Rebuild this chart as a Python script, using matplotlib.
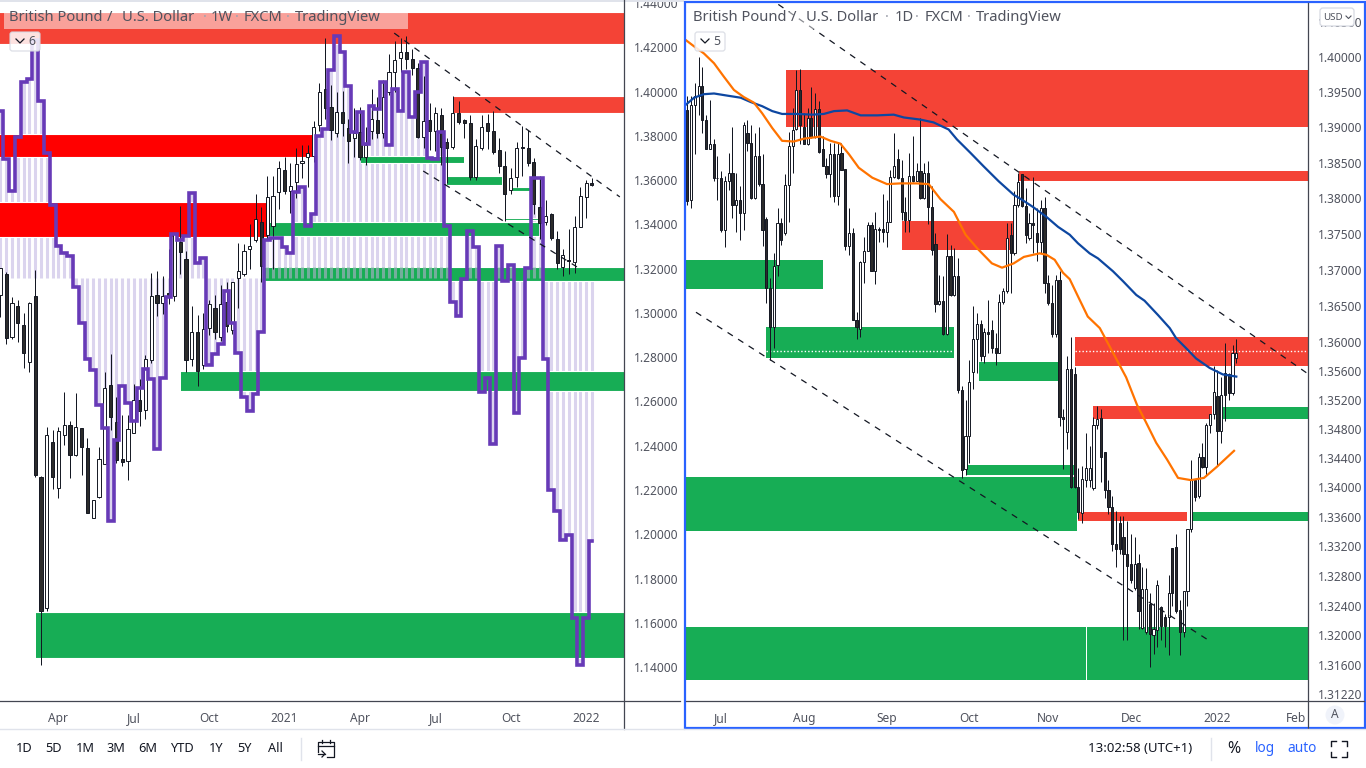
import matplotlib
matplotlib.use("Agg")
import matplotlib.pyplot as plt
from matplotlib.patches import Rectangle, Circle, FancyBboxPatch

plt.rcParams['font.family'] = ['Noto Sans', 'DejaVu Sans']

# ---- weekly chart data (left pane)
week_open = [1.3081,1.3176,1.2893,1.3031,1.2945,1.2780,1.3076,1.2261,1.1668,1.2416,1.2210,1.2447,1.2495,1.2359,1.2481,1.2391,1.2075,1.2168,1.2319,1.2676,
             1.2507,1.2341,1.2331,1.2459,1.2608,1.2563,1.2787,1.3081,1.3046,1.3090,1.3078,1.3322,1.3242,1.2790,1.2912,1.2764,1.2930,1.3021,1.2889,1.3051,
             1.2923,1.3156,1.3174,1.3287,1.3329,1.3409,1.3352,1.3394,1.3545,1.3646,1.3552,1.3590,1.3675,1.3703,1.3710,1.3849,1.4011,1.3929,1.3811,1.3909,
             1.3834,1.3789,1.3819,1.3703,1.3823,1.3871,1.3811,1.4000,1.4090,1.4150,1.4177,1.4145,1.4105,1.3796,1.3871,1.3823,1.3894,1.3774,1.3751,1.3902,
             1.3871,1.3860,1.3615,1.3746,1.3856,1.3823,1.3736,1.3664,1.3555,1.3615,1.3751,1.3743,1.3680,1.3477,1.3409,1.3445,1.3332,1.3209,1.3239,1.3231,
             1.3387,1.3522,1.3585]
week_high = [1.3201,1.3185,1.3070,1.3060,1.3000,1.3050,1.3195,1.2265,1.2485,1.2473,1.2484,1.2645,1.2513,1.2640,1.2481,1.2435,1.2156,1.2395,1.2734,1.2814,
             1.2620,1.2540,1.2540,1.2680,1.2700,1.2810,1.3180,1.3190,1.3165,1.3290,1.3355,1.3485,1.3280,1.3030,1.2990,1.3000,1.3060,1.3080,1.3125,1.3140,
             1.3141,1.3315,1.3312,1.3400,1.3535,1.3480,1.3620,1.3620,1.3685,1.3705,1.3675,1.3745,1.3757,1.3760,1.3865,1.4040,1.4240,1.4030,1.4000,1.4002,
             1.3875,1.3925,1.3930,1.3840,1.4010,1.3975,1.4050,1.4170,1.4230,1.4240,1.4250,1.4190,1.4130,1.4070,1.3950,1.3930,1.3925,1.3790,1.3980,1.3957,
             1.3875,1.3895,1.3785,1.3895,1.3900,1.3910,1.3790,1.3730,1.3655,1.3770,1.3845,1.3825,1.3700,1.3620,1.3510,1.3450,1.3370,1.3290,1.3380,1.3437,
             1.3570,1.3600,1.3610]
week_low = [1.2983,1.2860,1.2880,1.2870,1.2750,1.2735,1.2258,1.1408,1.1653,1.2205,1.2165,1.2405,1.2255,1.2355,1.2270,1.2096,1.2075,1.2165,1.2319,1.2470,
            1.2320,1.2310,1.2245,1.2459,1.2490,1.2520,1.2775,1.2985,1.2995,1.3040,1.3055,1.3175,1.2735,1.2760,1.2672,1.2745,1.2900,1.2880,1.2875,1.2915,
            1.2905,1.3020,1.3165,1.3200,1.3320,1.3140,1.3335,1.3200,1.3470,1.3535,1.3450,1.3520,1.3610,1.3570,1.3680,1.3820,1.3875,1.3780,1.3795,1.3800,
            1.3676,1.3705,1.3690,1.3670,1.3785,1.3790,1.3790,1.3985,1.4000,1.4090,1.4100,1.4075,1.3790,1.3745,1.3735,1.3730,1.3670,1.3585,1.3740,1.3855,
            1.3790,1.3600,1.3600,1.3735,1.3740,1.3720,1.3630,1.3415,1.3535,1.3570,1.3620,1.3665,1.3445,1.3335,1.3395,1.3330,1.3200,1.3165,1.3175,1.3180,
            1.3387,1.3430,1.3575]
week_close = [1.3201,1.2885,1.3046,1.2956,1.2820,1.3043,1.2270,1.1653,1.2447,1.2258,1.2465,1.2495,1.2359,1.2484,1.2394,1.2096,1.2156,1.2341,1.2662,1.2530,
              1.2337,1.2326,1.2477,1.2608,1.2557,1.2790,1.3076,1.3046,1.3078,1.3081,1.3355,1.3274,1.2787,1.2912,1.2739,1.2926,1.3039,1.2912,1.3039,1.2942,
              1.3141,1.3190,1.3281,1.3304,1.3426,1.3213,1.3522,1.3530,1.3653,1.3552,1.3575,1.3671,1.3688,1.3724,1.3841,1.3996,1.3924,1.3826,1.3909,1.3856,
              1.3778,1.3811,1.3703,1.3759,1.3874,1.3811,1.3977,1.4087,1.4141,1.4177,1.4147,1.4105,1.3796,1.3868,1.3823,1.3902,1.3751,1.3744,1.3902,1.3864,
              1.3860,1.3615,1.3755,1.3841,1.3823,1.3725,1.3665,1.3537,1.3608,1.3743,1.3746,1.3678,1.3490,1.3408,1.3439,1.3337,1.3227,1.3263,1.3233,1.3387,
              1.3530,1.3585,1.3580]
# purple step line
week_line = [1.3912,1.3694,1.3551,1.3796,1.4042,1.4055,1.4233,1.3957,1.3721,1.3489,1.3304,1.3269,1.3257,1.3118,1.2956,1.2792,1.2742,1.2582,1.2481,1.2062,
             1.2427,1.2672,1.2593,1.2514,1.2662,1.2745,1.2701,1.2386,1.2707,1.3073,1.3355,1.3329,1.3347,1.3540,1.3224,1.3246,1.2764,1.2813,1.2858,1.3099,
             1.2953,1.2820,1.2620,1.2556,1.2635,1.2915,1.3329,1.3337,1.3337,1.3299,1.3269,1.3548,1.3570,1.3394,1.3445,1.3799,1.3829,1.4097,1.4251,1.4180,
             1.4025,1.3816,1.3909,1.3761,1.3935,1.3920,1.4042,1.3758,1.4010,1.3912,1.4087,1.3886,1.3996,1.4132,1.3701,1.3694,1.3819,1.3394,1.3051,1.2986,
             1.3152,1.3370,1.3296,1.2645,1.2704,1.2409,1.3302,1.3144,1.3216,1.2548,1.2795,1.3204,1.3611,1.3611,1.2790,1.2198,1.2105,1.1975,1.1995,1.1623,
             1.1408,1.1623,1.1968]
stripe_base = 1.3158

week_ticks = [1.14,1.16,1.18,1.20,1.22,1.24,1.26,1.28,1.30,1.32,1.34,1.36,1.38,1.40,1.42,1.44]
week_xticks = [10,23,36,49,62,75,88,101]
week_xlabels = ['Apr','Jul','Oct','2021','Apr','Jul','Oct','2022']

# zones: first bar, last bar, low price, high price
RED = '#f44336'
PURE_RED = '#ff0000'
GREEN = '#17ad55'
week_zones = [
    (-1,107.6,1.4215,1.4359,RED),
    (-1,53.9,1.3706,1.3808,PURE_RED),
    (-1,45.9,1.3343,1.3501,PURE_RED),
    (78,107.6,1.3905,1.3980,RED),
    (62.2,80,1.3679,1.3709,GREEN),
    (77,86.5,1.3578,1.3618,GREEN),
    (88.2,91.3,1.3552,1.3569,GREEN),
    (87,92.7,1.3420,1.3429,GREEN),
    (46.3,92.9,1.3347,1.3411,GREEN),
    (45.3,107.6,1.3145,1.3209,GREEN),
    (31.1,107.6,1.2646,1.2738,GREEN),
    (6.1,107.6,1.1441,1.1647,GREEN),
]
week_trend_a = ([67.9,106.8],[1.4264,1.3524])
week_trend_b = ([72.9,99.4],[1.3641,1.3208])

# ---- daily chart data (right pane)
day_open = [1.3924,1.3797,1.3931,1.3944,1.3959,1.3911,1.3870,1.3877,1.3829,1.3828,1.3756,1.3825,1.3836,1.3791,1.3797,1.3779,1.3892,1.3878,1.3800,1.3860,
            1.3820,1.3771,1.3674,1.3620,1.3707,1.3766,1.3752,1.3819,1.3873,1.3897,1.3953,1.3901,1.3877,1.3913,1.3886,1.3926,1.3870,1.3846,1.3834,1.3862,
            1.3803,1.3864,1.3841,1.3733,1.3751,1.3630,1.3618,1.3711,1.3726,1.3762,1.3698,1.3757,1.3757,1.3753,1.3767,1.3830,1.3855,1.3829,1.3781,1.3769,
            1.3832,1.3824,1.3838,1.3801,1.3836,1.3788,1.3736,1.3652,1.3656,1.3611,1.3719,1.3665,1.3692,1.3534,1.3425,1.3471,1.3559,1.3604,1.3625,1.3580,
            1.3613,1.3617,1.3592,1.3584,1.3655,1.3670,1.3749,1.3723,1.3791,1.3834,1.3789,1.3745,1.3765,1.3751,1.3739,1.3786,1.3682,1.3654,1.3611,1.3686,
            1.3497,1.3476,1.3562,1.3556,1.3401,1.3365,1.3410,1.3410,1.3399,1.3486,1.3495,1.3448,1.3397,1.3373,1.3323,1.3351,1.3332,1.3310,1.3296,1.3263,
            1.3298,1.3210,1.3204,1.3242,1.3201,1.3207,1.3238,1.3224,1.3224,1.3318,1.3319,1.3234,1.3205,1.3259,1.3344,1.3410,1.3388,1.3441,1.3428,1.3486,
            1.3500,1.3525,1.3477,1.3557,1.3555,1.3529,1.3578]
day_high = [1.3944,1.3944,1.3963,1.4000,1.3985,1.3918,1.3939,1.3883,1.3859,1.3838,1.3831,1.3864,1.3900,1.3836,1.3817,1.3907,1.3910,1.3904,1.3892,1.3900,
            1.3862,1.3774,1.3689,1.3724,1.3786,1.3772,1.3834,1.3894,1.3927,1.3982,1.3983,1.3920,1.3928,1.3957,1.3949,1.3937,1.3888,1.3857,1.3878,1.3878,
            1.3878,1.3878,1.3841,1.3786,1.3758,1.3641,1.3712,1.3746,1.3767,1.3767,1.3781,1.3760,1.3806,1.3797,1.3840,1.3892,1.3869,1.3854,1.3802,1.3864,
            1.3888,1.3850,1.3913,1.3850,1.3853,1.3817,1.3751,1.3693,1.3691,1.3750,1.3735,1.3730,1.3717,1.3539,1.3520,1.3575,1.3649,1.3640,1.3630,1.3619,
            1.3658,1.3630,1.3612,1.3667,1.3675,1.3765,1.3766,1.3811,1.3836,1.3834,1.3814,1.3779,1.3830,1.3786,1.3797,1.3802,1.3693,1.3679,1.3693,1.3699,
            1.3508,1.3580,1.3607,1.3565,1.3426,1.3429,1.3475,1.3457,1.3497,1.3511,1.3508,1.3448,1.3410,1.3389,1.3368,1.3361,1.3361,1.3354,1.3337,1.3332,
            1.3310,1.3292,1.3290,1.3257,1.3243,1.3275,1.3239,1.3229,1.3281,1.3318,1.3337,1.3248,1.3259,1.3344,1.3438,1.3411,1.3447,1.3461,1.3488,1.3501,
            1.3566,1.3561,1.3552,1.3598,1.3557,1.3596,1.3604]
day_low = [1.3791,1.3787,1.3862,1.3918,1.3892,1.3869,1.3869,1.3824,1.3797,1.3753,1.3732,1.3812,1.3772,1.3753,1.3742,1.3756,1.3867,1.3799,1.3799,1.3817,
           1.3733,1.3654,1.3575,1.3591,1.3691,1.3735,1.3749,1.3767,1.3836,1.3896,1.3876,1.3876,1.3875,1.3885,1.3885,1.3864,1.3845,1.3829,1.3802,1.3795,
           1.3791,1.3840,1.3728,1.3721,1.3630,1.3604,1.3607,1.3682,1.3726,1.3698,1.3680,1.3739,1.3739,1.3732,1.3767,1.3829,1.3827,1.3769,1.3753,1.3753,
           1.3823,1.3824,1.3799,1.3799,1.3764,1.3721,1.3641,1.3651,1.3610,1.3610,1.3663,1.3663,1.3530,1.3413,1.3417,1.3434,1.3535,1.3557,1.3573,1.3571,
           1.3584,1.3584,1.3568,1.3584,1.3653,1.3668,1.3668,1.3721,1.3788,1.3788,1.3737,1.3741,1.3723,1.3712,1.3723,1.3668,1.3651,1.3607,1.3607,1.3484,
           1.3425,1.3452,1.3399,1.3399,1.3357,1.3352,1.3401,1.3401,1.3397,1.3480,1.3408,1.3385,1.3364,1.3314,1.3292,1.3310,1.3193,1.3193,1.3270,1.3261,
           1.3209,1.3209,1.3202,1.3158,1.3175,1.3184,1.3193,1.3184,1.3173,1.3239,1.3230,1.3173,1.3198,1.3239,1.3339,1.3381,1.3385,1.3427,1.3415,1.3475,
           1.3493,1.3431,1.3461,1.3491,1.3520,1.3526,1.3571]
day_close = [1.3796,1.3932,1.3944,1.3959,1.3911,1.3870,1.3877,1.3828,1.3828,1.3756,1.3825,1.3836,1.3791,1.3797,1.3779,1.3903,1.3878,1.3800,1.3860,1.3820,
             1.3755,1.3674,1.3620,1.3706,1.3766,1.3741,1.3819,1.3873,1.3896,1.3953,1.3904,1.3877,1.3913,1.3886,1.3926,1.3865,1.3846,1.3834,1.3862,1.3803,
             1.3863,1.3840,1.3733,1.3751,1.3630,1.3620,1.3711,1.3726,1.3762,1.3698,1.3757,1.3755,1.3753,1.3767,1.3830,1.3845,1.3829,1.3781,1.3769,1.3832,
             1.3824,1.3838,1.3800,1.3835,1.3788,1.3728,1.3652,1.3656,1.3611,1.3719,1.3665,1.3692,1.3534,1.3424,1.3471,1.3545,1.3604,1.3625,1.3580,1.3613,
             1.3611,1.3592,1.3584,1.3655,1.3670,1.3744,1.3723,1.3791,1.3823,1.3789,1.3749,1.3765,1.3763,1.3739,1.3786,1.3682,1.3654,1.3611,1.3686,1.3497,
             1.3493,1.3562,1.3401,1.3401,1.3366,1.3411,1.3427,1.3427,1.3485,1.3493,1.3441,1.3397,1.3373,1.3323,1.3316,1.3316,1.3310,1.3294,1.3274,1.3296,
             1.3232,1.3262,1.3262,1.3202,1.3208,1.3268,1.3213,1.3213,1.3257,1.3257,1.3233,1.3205,1.3259,1.3344,1.3411,1.3387,1.3441,1.3428,1.3486,1.3500,
             1.3531,1.3477,1.3527,1.3527,1.3529,1.3585,1.3585]

blue_x = [-0.4,1.8,4.4,7.1,10.6,14.2,16.8,19.9,22.6,25.2,29.2,33.2,36.3,39,42.5,46.1,50.5,54.9,57.6,62,65.5,69.5,71.7,75.3,78.8,82.8,86.8,89,91.9,95.5,
          98.6,101.7,103.9,107,109.2,113.2,115.9,119.4,121.6,125.2,128.3,130,132.7,135.3,138.9,142.4,146]
blue_y = [1.3932,1.3942,1.3947,1.3948,1.3945,1.3942,1.3936,1.3930,1.3923,1.3919,1.3919,1.3918,1.3919,1.3923,1.3924,1.3917,1.3917,1.3918,1.3914,1.3911,
          1.3907,1.3897,1.3883,1.3864,1.3845,1.3824,1.3805,1.3798,1.3788,1.3774,1.3760,1.3749,1.3737,1.3723,1.3716,1.3698,1.3684,1.3665,1.3657,1.3637,
          1.3619,1.3605,1.3591,1.3577,1.3564,1.3555,1.3552]
orange_x = [-0.4,1.8,4.4,7.1,9.7,12.4,15,17.7,19.9,22.6,25.2,28.3,31,35.4,38.1,40.7,43,45.6,49.2,53.1,56.7,61.1,64.2,67.3,70.9,74,77.1,81,83.7,86.8,89.5,
            93.7,95.5,97.7,99.9,101.7,103.9,106.5,109.7,113.2,116.7,119.6,121.9,124.7,127.6,130.5,133.9,137.4,140.8,145.4]
orange_y = [1.4024,1.4015,1.4005,1.3991,1.3972,1.3953,1.3943,1.3935,1.3920,1.3899,1.3881,1.3880,1.3884,1.3887,1.3881,1.3877,1.3862,1.3843,1.3829,1.3820,
            1.3821,1.3821,1.3820,1.3799,1.3781,1.3749,1.3730,1.3709,1.3703,1.3709,1.3718,1.3723,1.3721,1.3714,1.3696,1.3687,1.3663,1.3635,1.3619,1.3585,1.3551,
            1.3513,1.3490,1.3461,1.3438,1.3413,1.3410,1.3413,1.3428,1.3450]

day_ticks = [1.3122,1.316,1.32,1.324,1.328,1.332,1.336,1.34,1.344,1.348,1.352,1.356,1.36,1.365,1.37,1.375,1.38,1.385,1.39,1.395,1.40,1.405]
day_xticks = [9,31,53,75,96,118,141,162]
day_xlabels = ['Jul','Aug','Sep','Oct','Nov','Dec','2022','Feb']

day_zones = [
    (26.3,166,1.3900,1.3982,RED),
    (88.2,166,1.3824,1.3839,RED),
    (57,86.5,1.3728,1.3768,RED),
    (-1,36,1.3673,1.3713,GREEN),
    (21,71,1.3577,1.3621,GREEN),
    (77.5,99,1.3546,1.3572,GREEN),
    (103,166,1.3566,1.3607,RED),
    (108,139.5,1.3493,1.3512,RED),
    (142,166,1.3494,1.3510,GREEN),
    (74,103.2,1.3417,1.3431,GREEN),
    (-1,103.6,1.3341,1.3414,GREEN),
    (103.8,132.9,1.3355,1.3366,RED),
    (133.7,166,1.3355,1.3366,GREEN),
    (-1,105.9,1.3140,1.3211,GREEN),
    (106.4,166,1.3140,1.3211,GREEN),
]
day_trend_a = ([24.2,165],[1.4075,1.3556])
day_trend_b = ([2.3,138.4],[1.3641,1.3194])
day_dotted = ([21,166],[1.3588,1.3588])

TEXT = '#50535e'
AXIS = '#434651'


def px_axes(fig, x0, y0, x1, y1):
    return fig.add_axes([x0/1366, 1-y1/768, (x1-x0)/1366, (y1-y0)/768])


def draw_zones(ax, zones, edge=None):
    for x0, x1, lo, hi, col in zones:
        ax.fill_between([x0, x1], lo, hi, color=col, lw=0, zorder=2)
        if edge:
            ax.plot([x0, x1], [lo, lo], color=edge, lw=0.8, zorder=2)
            ax.plot([x0, x1], [hi, hi], color=edge, lw=0.8, zorder=2)


def draw_candles(ax, o, h, l, c, width):
    xs = list(range(len(o)))
    ax.vlines(xs, l, h, color='#131722', lw=0.72, zorder=4)
    for x, op, cl in zip(xs, o, c):
        fc = 'white' if cl >= op else '#2b2b2b'
        ax.bar(x, abs(cl-op), bottom=min(op, cl), width=width, facecolor=fc,
               edgecolor='#131722', lw=0.7, zorder=4)


def style_price_axis(ax, ticks, xticks, xlabels):
    ax.set_yticks(ticks)
    ax.set_yticklabels(['%.5f' % t for t in ticks])
    ax.minorticks_off()
    ax.yaxis.tick_right()
    ax.tick_params(axis='y', length=0, pad=7.5, labelsize=8.6, labelcolor=TEXT, which='both')
    ax.set_xticks(xticks)
    ax.set_xticklabels(xlabels)
    ax.tick_params(axis='x', length=0, pad=8, labelsize=8.6, labelcolor=TEXT)
    for lab in ax.get_xticklabels():
        if lab.get_text().startswith('20'):
            lab.set_fontweight('bold')
    for s in ax.spines.values():
        s.set_visible(False)


fig = plt.figure(figsize=(13.66, 7.68), dpi=100, facecolor='white')

# ---- left pane
ax = px_axes(fig, 0, 2, 624, 701)
xs = list(range(len(week_close)))
for x, v in zip(xs, week_line):
    ax.vlines(x, min(v, stripe_base), max(v, stripe_base), color='#dbd4ee', lw=2.2, zorder=1)
draw_zones(ax, week_zones, edge='white')
for x, v in zip(xs, week_line):
    if x >= 46 and v > stripe_base:
        ax.vlines(x, stripe_base, min(v, 1.3209), color='#74ae9c', lw=2.2, zorder=3)
draw_candles(ax, week_open, week_high, week_low, week_close, 0.52)
ax.step(xs, week_line, where='mid', color='#673ab7', lw=2.6, zorder=5, solid_joinstyle='miter')
for tr in (week_trend_a, week_trend_b):
    ax.plot(tr[0], tr[1], color='#131722', lw=0.9, dashes=(5, 5), zorder=6)
ax.set_xlim(-0.07, 107.52)
ax.set_ylim(1.1247, 1.44045)
style_price_axis(ax, week_ticks, week_xticks, week_xlabels)

# ---- right pane
ax2 = px_axes(fig, 686, 3, 1308, 701)
ax2.set_yscale('log')
draw_zones(ax2, day_zones)
ax2.plot(day_dotted[0], day_dotted[1], color='white', lw=1, dashes=(1, 1.5), zorder=3)
draw_candles(ax2, day_open, day_high, day_low, day_close, 0.58)
ax2.plot(blue_x, blue_y, color='#0d47a1', lw=1.6, zorder=5)
ax2.plot(orange_x, orange_y, color='#ff7300', lw=1.6, zorder=5)
for tr in (day_trend_a, day_trend_b):
    ax2.plot(tr[0], tr[1], color='#131722', lw=0.9, dashes=(5, 5), zorder=6)
ax2.set_xlim(-0.35, 165.07)
ax2.set_ylim(1.3112, 1.4077)
style_price_axis(ax2, day_ticks, day_xticks, day_xlabels)

# ---- page chrome, drawn in pixel coordinates
ui = fig.add_axes([0, 0, 1, 1], zorder=10)
ui.set_xlim(0, 1366)
ui.set_ylim(768, 0)
ui.axis('off')
ui.patch.set_alpha(0)

ui.add_patch(Rectangle((0, 0), 684, 2, color='#e0e3eb', lw=0))
ui.plot([624, 624], [0, 729], color=AXIS, lw=0.9)
ui.plot([0, 680], [701, 701], color=AXIS, lw=0.9)
ui.plot([1308, 1308], [3, 728], color=AXIS, lw=0.9)
ui.plot([686, 1364], [701, 701], color=AXIS, lw=0.9)
ui.plot([0, 684], [729, 729], color='#e0e3eb', lw=1)
ui.plot([684, 1366], [729, 729], color='#e0e3eb', lw=1)
ui.add_patch(Rectangle((685, 2), 680, 726, fill=False, edgecolor='#2962ff', lw=1.6))

ui.add_patch(Rectangle((4, 12), 404, 17, color='white', alpha=0.5, lw=0))
ui.add_patch(Rectangle((690, 12), 375, 17, color='white', alpha=0.5, lw=0))
# title pieces at the places they take in the picture
left_title = [('British Pound', 9), ('/', 107), ('U.S. Dollar', 122), ('·', 203),
              ('1W', 211), ('·', 235), ('FXCM', 244), ('·', 286), ('TradingView', 295)]
right_title = [('British Pound', 693), ('/', 791), ('U.S. Dollar', 806), ('·', 885),
               ('1D', 895), ('·', 915), ('FXCM', 925), ('·', 967), ('TradingView', 976)]
for pieces in (left_title, right_title):
    for s, x in pieces:
        ui.text(x, 17.5, s, color='#a0a3ad' if s == '·' else TEXT, fontsize=10.6, va='center')

for bx, num in ((9, '6'), (694, '5')):
    ui.add_patch(FancyBboxPatch((bx+1, 32), 30, 19, boxstyle='round,pad=0,rounding_size=2.5',
                                facecolor='white', edgecolor='#d6d9e2', lw=0.9, alpha=0.85))
    ui.plot([bx+7, bx+11, bx+15], [39, 43, 39], color='#131722', lw=0.9)
    ui.text(bx+23, 41.5, num, color=TEXT, fontsize=8.8, ha='center', va='center')

ui.add_patch(FancyBboxPatch((1320, 8), 34, 18, boxstyle='round,pad=0,rounding_size=3',
                            facecolor='white', edgecolor='#d6d9e2', lw=0.9))
ui.text(1333, 17, 'USD', color=TEXT, fontsize=7, ha='center', va='center')
ui.plot([1346, 1348.5, 1351], [16, 18.5, 16], color=TEXT, lw=0.8)

ui.add_patch(Circle((1335, 715), 9.5, color='#f0f3fa', lw=0))
ui.text(1335, 715, 'A', color=TEXT, fontsize=8.6, ha='center', va='center')

for cx, s in ((24,'1D'),(54,'5D'),(85,'1M'),(116,'3M'),(148,'6M'),(182,'YTD'),(216,'1Y'),(245,'5Y'),(275,'All')):
    ui.text(cx, 749, s, color='#131722', fontsize=9.2, ha='center', va='center')
ui.plot([300.5, 300.5], [738, 760], color='#e0e3eb', lw=1)
ui.plot([1211, 1211], [738, 760], color='#e0e3eb', lw=1)

# calendar icon
ui.plot([318, 318, 334, 334, 327], [752, 742, 742, 757, 757], color='#131722', lw=0.9)
ui.plot([318, 334], [746, 746], color='#131722', lw=0.9)
ui.plot([322, 322], [740, 743], color='#131722', lw=0.9)
ui.plot([330, 330], [740, 743], color='#131722', lw=0.9)
ui.plot([318, 325], [754, 754], color='#131722', lw=0.9)
ui.plot([322, 325, 322], [751, 754, 757], color='#131722', lw=0.9)

ui.text(1140, 749, '13:02:58 (UTC+1)', color='#131722', fontsize=9.5, ha='center', va='center')
ui.text(1234, 749, '%', color='#131722', fontsize=11.5, ha='center', va='center')
ui.text(1265, 749, 'log', color='#2962ff', fontsize=9.8, ha='center', va='center')
ui.text(1302, 749, 'auto', color='#2962ff', fontsize=9.8, ha='center', va='center')

# fullscreen icon
for x0, y0, dx, dy in ((1331, 741, 1, 1), (1347, 741, -1, 1), (1331, 757, 1, -1), (1347, 757, -1, -1)):
    ui.plot([x0, x0, x0+5*dx], [y0+5*dy, y0, y0], color='#131722', lw=1)

fig.savefig('out.png', dpi=100)
